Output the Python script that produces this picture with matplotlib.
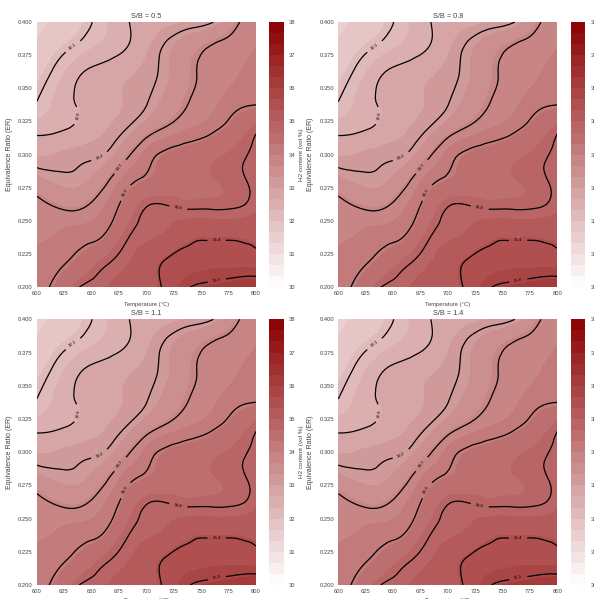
import numpy as np
import matplotlib
matplotlib.use("Agg")
import matplotlib.pyplot as plt
from matplotlib.colors import LinearSegmentedColormap
from matplotlib.tri import Triangulation, UniformTriRefiner

plt.rcParams['font.family'] = ['Liberation Sans', 'DejaVu Sans']

# ---- data ----
sb_ratios = [0.5, 0.8, 1.1, 1.4]
temperatures = [600, 620, 640, 660, 680, 700, 720, 740, 760, 780, 800]
equivalence_ratios = [0.20, 0.22, 0.24, 0.26, 0.28, 0.30, 0.32, 0.34, 0.36, 0.38, 0.40]

# H2 content (vol %), rows follow equivalence_ratios, columns follow temperatures
h2_row_020 = [34.15, 34.41, 34.83, 34.97, 35.11, 35.25, 35.46, 35.90, 36.05, 36.20, 36.30]
h2_row_022 = [34.10, 34.19, 34.41, 34.69, 34.94, 35.17, 35.40, 35.50, 35.55, 35.55, 35.50]
h2_row_024 = [33.95, 34.02, 34.12, 34.24, 34.70, 34.95, 35.05, 35.25, 35.28, 35.28, 35.25]
h2_row_026 = [33.90, 33.72, 33.70, 33.98, 34.42, 34.82, 34.84, 34.78, 34.78, 34.80, 34.95]
h2_row_028 = [33.44, 33.28, 33.28, 33.58, 34.11, 34.35, 34.45, 34.55, 34.65, 34.74, 34.88]
h2_row_030 = [32.97, 33.03, 33.11, 33.18, 33.58, 34.10, 34.36, 34.48, 34.60, 34.72, 34.87]
h2_row_032 = [32.50, 32.58, 32.74, 32.95, 33.16, 33.49, 33.79, 34.00, 34.18, 34.45, 34.74]
h2_row_034 = [32.10, 32.43, 32.70, 32.86, 33.01, 33.17, 33.45, 33.74, 33.92, 34.15, 34.22]
h2_row_036 = [31.95, 32.25, 32.64, 32.79, 32.94, 33.09, 33.32, 33.66, 33.84, 33.97, 34.10]
h2_row_038 = [31.75, 31.99, 32.21, 32.42, 32.62, 32.95, 33.28, 33.57, 33.78, 33.89, 34.00]
h2_row_040 = [31.55, 31.76, 31.97, 32.24, 32.59, 32.76, 32.90, 33.03, 33.17, 33.63, 33.95]

line_levels = [32.1, 32.64, 33.19, 33.73, 34.27, 34.81, 35.36, 35.9]
cbar_ticks = [30, 31, 32, 33, 34, 35, 36, 37, 38]
x_ticks = [600, 625, 650, 675, 700, 725, 750, 775, 800]
y_ticks = [0.200, 0.225, 0.250, 0.275, 0.300, 0.325, 0.350, 0.375, 0.400]

h2_grid = np.array([h2_row_020, h2_row_022, h2_row_024, h2_row_026, h2_row_028,
                    h2_row_030, h2_row_032, h2_row_034, h2_row_036, h2_row_038,
                    h2_row_040])

TT, EE = np.meshgrid(temperatures, equivalence_ratios)
triang = Triangulation(TT.ravel(), EE.ravel())
refiner = UniformTriRefiner(triang)

cmap = LinearSegmentedColormap.from_list('wdr', ['#ffffff', '#8b0000'])
fill_levels = np.linspace(30, 38, 25)

label_positions = [(631, 0.384), (632, 0.330), (659, 0.296), (677.5, 0.290),
                   (681.5, 0.271), (729, 0.2595), (764, 0.233), (764, 0.207)]

W, H = 594, 599
fig = plt.figure(figsize=(W / 100, H / 100), dpi=100)

def frac_axes(x0, y0, x1, y1):
    return fig.add_axes([x0 / W, 1 - y1 / H, (x1 - x0) / W, (y1 - y0) / H])

panel_boxes = [
    ((36.7, 22, 256, 287.3), (269, 283.5)),
    ((338.3, 22, 557.3, 287.3), (570.7, 585.2)),
    ((36.7, 319.3, 256, 585), (269, 283.5)),
    ((338.3, 319.3, 557.3, 585), (570.7, 585.2)),
]

text_color = '#444444'

for i, (sb, (abox, cbx)) in enumerate(zip(sb_ratios, panel_boxes)):
    ax = frac_axes(*abox)
    cax = frac_axes(cbx[0], abox[1], cbx[1], abox[3])
    tri_refi, z_refi = refiner.refine_field(h2_grid.ravel(), subdiv=3)
    cf = ax.tricontourf(tri_refi, z_refi, levels=fill_levels, cmap=cmap,
                        vmin=30, vmax=38)
    cs = ax.tricontour(tri_refi, z_refi, levels=line_levels, colors='black',
                       linewidths=0.9)
    ax.clabel(cs, fmt='%.1f', fontsize=3.2, inline=True,
              manual=label_positions)
    ax.set_xlim(600, 800)
    ax.set_ylim(0.2, 0.4)
    ax.set_xticks(x_ticks)
    ax.set_yticks(y_ticks)
    ax.set_yticklabels([f'{v:.3f}' for v in y_ticks])
    ax.tick_params(length=0, labelsize=4.2, pad=3, colors=text_color)
    for s in ax.spines.values():
        s.set_visible(False)
    ax.set_title(f'S/B = {sb}', fontsize=5.3, color=text_color, pad=3)
    ax.set_xlabel('Temperature (°C)', fontsize=4.2, color=text_color)
    ax.xaxis.set_label_coords(0.5, -0.055 if i < 2 else -0.05)
    ax.set_ylabel('Equivalence Ratio (ER)', fontsize=5, color=text_color)
    ax.yaxis.set_label_coords(-0.11, 0.5)

    cb = fig.colorbar(cf, cax=cax, ticks=cbar_ticks)
    cb.outline.set_visible(False)
    cb.ax.tick_params(length=0, labelsize=4.2, pad=4, colors=text_color)
    cb.set_label('H2 content (vol %)', fontsize=4.6, color=text_color)
    cb.ax.yaxis.set_label_coords(2.05, 0.5)

fig.savefig('out.png', dpi=100)
